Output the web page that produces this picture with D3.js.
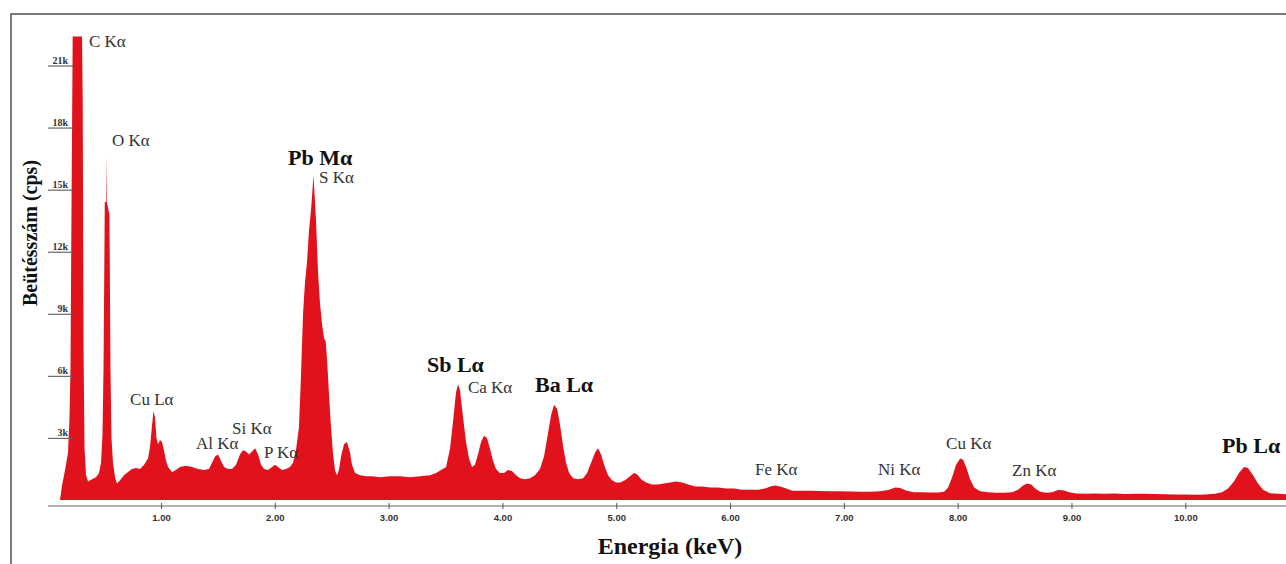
<!DOCTYPE html>
<html>
<head>
<meta charset="utf-8">
<script src="https://cdn.jsdelivr.net/npm/d3@7.9.0/dist/d3.min.js"></script>
<style>
  html, body { margin: 0; padding: 0; background: #fff; }
  svg { display: block; }
  .serif { font-family: "Liberation Serif", "Times New Roman", serif; }
</style>
</head>
<body>
<svg id="chart" width="1286" height="564"></svg>
<script>
// EDS spectrum: [energy keV, counts cps]
const spectrum = [
  [0.112, 0], [0.121, 300], [0.130, 700], [0.148, 1200], [0.165, 1700], [0.183, 2300],
  [0.196, 4000], [0.205, 6500], [0.214, 14500], [0.224, 22400], [0.306, 22400],
  [0.312, 19400], [0.319, 7500], [0.328, 2500], [0.341, 1200], [0.359, 900],
  [0.394, 1000], [0.429, 1100], [0.455, 1300], [0.473, 1800], [0.486, 3200],
  [0.495, 6400], [0.506, 14400], [0.518, 14400], [0.520, 16700], [0.524, 14400],
  [0.547, 13800], [0.556, 6300], [0.565, 3000], [0.578, 1800], [0.596, 1100],
  [0.613, 800], [0.640, 950], [0.675, 1200], [0.710, 1350], [0.745, 1500],
  [0.780, 1550], [0.816, 1500], [0.851, 1700], [0.886, 2000], [0.904, 2600],
  [0.921, 3600], [0.934, 4300], [0.947, 4000], [0.960, 3000], [0.974, 2700],
  [0.991, 2900], [1.009, 2800], [1.026, 2400], [1.044, 1900], [1.062, 1600],
  [1.097, 1350], [1.132, 1450], [1.167, 1600], [1.220, 1650], [1.272, 1600],
  [1.325, 1500], [1.378, 1450], [1.422, 1500], [1.448, 1800], [1.475, 2100],
  [1.501, 2200], [1.527, 1900], [1.554, 1600], [1.589, 1500], [1.624, 1500],
  [1.659, 1700], [1.694, 2200], [1.720, 2400], [1.747, 2350], [1.774, 2200],
  [1.800, 2350], [1.827, 2500], [1.853, 2200], [1.879, 1700], [1.906, 1500],
  [1.941, 1450], [1.976, 1600], [2.002, 1700], [2.028, 1600], [2.063, 1450],
  [2.098, 1500], [2.133, 1600], [2.160, 1800], [2.186, 2400], [2.212, 3500],
  [2.230, 6000], [2.248, 9000], [2.265, 10500], [2.283, 11500], [2.300, 13000],
  [2.318, 14000], [2.331, 15000], [2.340, 15700], [2.349, 14800], [2.362, 13500],
  [2.380, 11000], [2.397, 9500], [2.415, 8500], [2.433, 7800], [2.446, 7700],
  [2.459, 6800], [2.477, 5000], [2.494, 3500], [2.512, 2200], [2.530, 1400],
  [2.547, 1200], [2.565, 1500], [2.582, 2100], [2.608, 2700], [2.634, 2800],
  [2.661, 2300], [2.678, 1700], [2.705, 1300], [2.749, 1200], [2.802, 1150],
  [2.855, 1150], [2.925, 1100], [3.012, 1150], [3.100, 1150], [3.188, 1100],
  [3.276, 1150], [3.364, 1200], [3.417, 1300], [3.461, 1450], [3.505, 1600],
  [3.540, 2500], [3.566, 3800], [3.592, 5200], [3.610, 5600], [3.627, 5300],
  [3.654, 4000], [3.680, 2800], [3.706, 2000], [3.733, 1600], [3.759, 1700],
  [3.785, 2200], [3.812, 2800], [3.838, 3100], [3.864, 3000], [3.890, 2500],
  [3.917, 1900], [3.943, 1500], [3.978, 1300], [4.014, 1300], [4.049, 1450],
  [4.084, 1400], [4.119, 1200], [4.155, 1050], [4.199, 1000], [4.243, 1050],
  [4.286, 1200], [4.330, 1500], [4.365, 2100], [4.400, 3200], [4.427, 4100],
  [4.454, 4600], [4.481, 4400], [4.507, 3600], [4.533, 2600], [4.559, 1800],
  [4.586, 1300], [4.621, 1050], [4.665, 1000], [4.709, 1050], [4.744, 1300],
  [4.779, 1800], [4.814, 2300], [4.840, 2500], [4.867, 2200], [4.893, 1700],
  [4.928, 1200], [4.963, 950], [4.998, 850], [5.033, 850], [5.077, 950],
  [5.121, 1150], [5.156, 1300], [5.183, 1250], [5.218, 1000], [5.262, 850],
  [5.314, 750], [5.367, 750], [5.420, 800], [5.473, 850], [5.526, 900],
  [5.579, 850], [5.632, 750], [5.694, 650], [5.756, 650], [5.826, 600],
  [5.896, 600], [5.966, 550], [6.036, 550], [6.107, 500], [6.177, 500],
  [6.247, 500], [6.308, 550], [6.353, 650], [6.397, 700], [6.441, 650],
  [6.494, 550], [6.546, 450], [6.617, 450], [6.705, 450], [6.793, 430],
  [6.881, 420], [6.969, 420], [7.057, 410], [7.144, 400], [7.232, 400],
  [7.320, 420], [7.390, 480], [7.452, 600], [7.496, 580], [7.549, 450],
  [7.619, 380], [7.687, 370], [7.758, 360], [7.828, 360], [7.881, 400],
  [7.916, 600], [7.951, 1100], [7.986, 1700], [8.022, 2000], [8.048, 1950],
  [8.074, 1600], [8.109, 1000], [8.145, 600], [8.197, 420], [8.268, 380],
  [8.338, 350], [8.408, 350], [8.479, 380], [8.531, 500], [8.575, 700],
  [8.610, 800], [8.646, 750], [8.681, 550], [8.725, 400], [8.778, 350],
  [8.830, 380], [8.883, 480], [8.927, 470], [8.979, 370], [9.041, 310],
  [9.120, 300], [9.208, 320], [9.295, 300], [9.383, 310], [9.471, 290],
  [9.559, 300], [9.647, 300], [9.735, 290], [9.823, 280], [9.910, 270],
  [9.998, 260], [10.086, 250], [10.174, 260], [10.262, 300], [10.323, 380],
  [10.376, 550], [10.428, 900], [10.472, 1300], [10.516, 1600], [10.551, 1550],
  [10.595, 1200], [10.639, 800], [10.683, 500], [10.745, 330], [10.815, 300],
  [10.885, 280]
];

const xTicks = [1, 2, 3, 4, 5, 6, 7, 8, 9, 10];
const yTicks = [3000, 6000, 9000, 12000, 15000, 18000, 21000];

// peak labels: [text, energy keV, counts cps, major line]
const peakLabels = [
  ["C Kα", 0.367, 21894, false],
  ["O Kα", 0.569, 17110, false],
  ["Pb Mα", 2.116, 16192, true],
  ["S Kα", 2.388, 15298, false],
  ["Cu Lα", 0.728, 4592, false],
  ["Al Kα", 1.307, 2465, false],
  ["Si Kα", 1.624, 3190, false],
  ["P Kα", 1.905, 2030, false],
  ["Sb Lα", 3.337, 6187, true],
  ["Ca Kα", 3.697, 5172, false],
  ["Ba Lα", 4.286, 5220, true],
  ["Fe Kα", 6.219, 1208, false],
  ["Ni Kα", 7.300, 1208, false],
  ["Cu Kα", 7.898, 2465, false],
  ["Zn Kα", 8.478, 1160, false],
  ["Pb Lα", 10.323, 2272, true]
];

const svg = d3.select('#chart');

const x = d3.scaleLinear().domain([0, 10.885]).range([47.2, 1286]);
const y = d3.scaleLinear().domain([0, 21000]).range([500, 65.5]);

// outer frame
svg.append('rect')
  .attr('x', 11).attr('y', 14)
  .attr('width', 1300).attr('height', 600)
  .attr('fill', 'none')
  .attr('stroke', '#333')
  .attr('stroke-width', 1.3);

// spectrum fill
const area = d3.area()
  .x((d) => x(d[0]))
  .y0(y(0))
  .y1((d) => y(d[1]))
  .curve(d3.curveLinear);

svg.append('path')
  .datum(spectrum)
  .attr('d', area)
  .attr('fill', '#e1121b');

// y ticks: short lines with labels sitting on them
const yAxis = svg.append('g')
  .attr('transform', 'translate(48,0)')
  .call(d3.axisRight(y).tickValues(yTicks).tickSize(25).tickFormat((d) => d / 1000 + 'k'));
yAxis.select('.domain').remove();
yAxis.selectAll('line').attr('stroke', '#666').attr('stroke-width', 1.2);
yAxis.selectAll('text')
  .attr('x', 20)
  .attr('dy', '-2')
  .attr('text-anchor', 'end')
  .attr('fill', '#333')
  .attr('font-family', '"Liberation Serif", serif')
  .attr('font-weight', 'bold')
  .attr('font-size', 10);

// x axis
const xAxis = svg.append('g')
  .attr('transform', 'translate(0,506)')
  .call(d3.axisBottom(x).tickValues(xTicks).tickSize(3).tickFormat(d3.format('.2f')));
xAxis.select('.domain')
  .attr('d', `M48,0H1286`)
  .attr('stroke', '#666')
  .attr('stroke-width', 1.2);
xAxis.selectAll('line').attr('y1', -3).attr('y2', 3).attr('stroke', '#555');
xAxis.selectAll('text')
  .attr('y', 8)
  .attr('fill', '#333')
  .attr('font-family', '"Liberation Sans", Arial, sans-serif')
  .attr('font-weight', 'bold')
  .attr('font-size', 9.5);

// peak labels
svg.append('g')
  .selectAll('text')
  .data(peakLabels)
  .join('text')
  .attr('class', 'serif')
  .attr('x', (d) => x(d[1]))
  .attr('y', (d) => y(d[2]))
  .attr('font-size', (d) => (d[3] ? 22 : 17))
  .attr('font-weight', (d) => (d[3] ? 'bold' : 'normal'))
  .attr('fill', (d) => (d[3] ? '#111' : '#333'))
  .text((d) => d[0]);

// axis titles
svg.append('text')
  .attr('class', 'serif')
  .attr('transform', 'translate(37,233) rotate(-90)')
  .attr('text-anchor', 'middle')
  .attr('font-size', 20)
  .attr('font-weight', 'bold')
  .attr('fill', '#111')
  .text('Beütésszám (cps)');

svg.append('text')
  .attr('class', 'serif')
  .attr('x', 670)
  .attr('y', 554)
  .attr('text-anchor', 'middle')
  .attr('font-size', 24)
  .attr('font-weight', 'bold')
  .attr('fill', '#111')
  .text('Energia (keV)');
</script>
</body>
</html>
